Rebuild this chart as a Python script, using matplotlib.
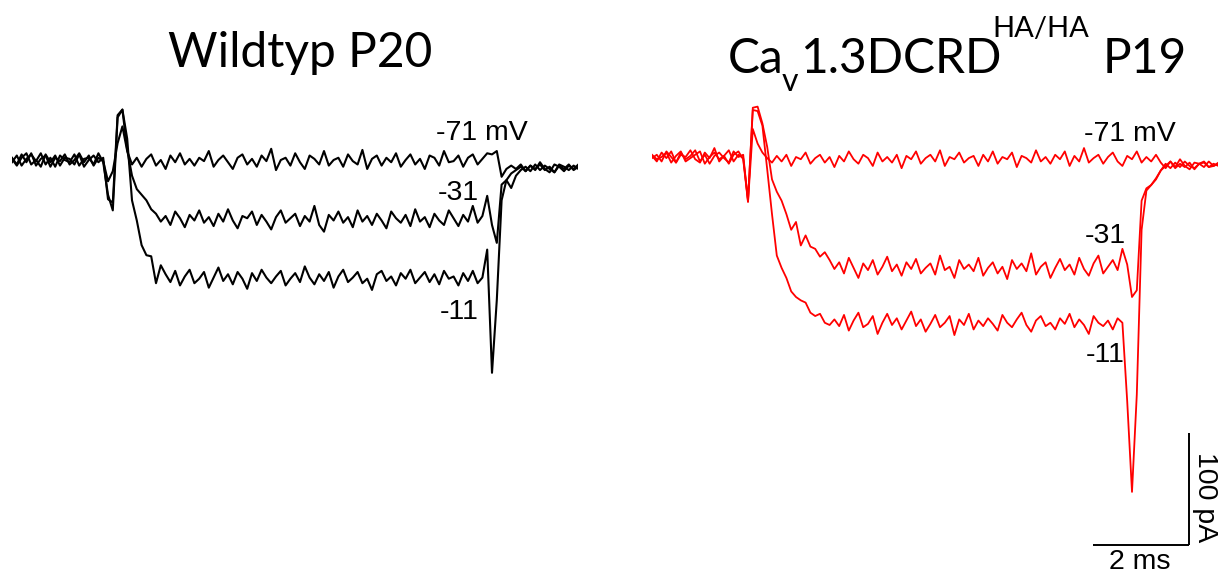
import numpy as np
import matplotlib
matplotlib.use("Agg")
import matplotlib.pyplot as plt

# ---------------- data (pA), sampled every 0.1 ms ----------------
dt_ms = 0.1

wt_m71 = [2, -4, 5, -2, 6, -5, 1, 4, -6, 2, -1, 5, -4, 0, 6, -2, 4, -5, 2, -1,
          -19, -10, 15, 30, 8,
          -4, 2, -6, 1, 5, -5, 0, -8, 4, -2,
          6, -4, 1, -5, 2, -1, 8, -6, 0, 4,
          -2, -8, 2, 5, -4, 1, -6, 4, -1, 10,
          -9, 0, 2, -5, 6, -2, -8, 4, 1, -4,
          8, -5, 0, 2, -6, 5, -1, -4, 9, -8,
          1, 4, -5, 2, -2, 6, -6, 0, 5, -4,
          1, -8, 4, 2, -5, 8, -2, -1, 4, -6,
          2, 5, -4, 1, 6,
          5, 8, -15, -8, -5,
          -8, -4, -10, -5, -9, -2, -8, -11, -4, -6, -10, -5, -8, -4]

wt_m31 = [-2, 4, -5, 1, 5, -1, 6, -4, 2, -6, 4, 0, -2, 5, -5, 1, 2, -4, 6, -2,
          -31, -45, 38, 45, 9, -14, -26, -31, -36, -44,
          -48, -55, -50, -58, -46, -52, -60, -49, -54, -45,
          -56, -51, -59, -48, -55, -44, -54, -61, -50, -52,
          -46, -58, -49, -55, -62, -51, -45, -56, -52, -48,
          -59, -50, -55, -41, -58, -64, -49, -54, -46, -56,
          -51, -60, -45, -55, -50, -58, -48, -54, -61, -46,
          -52, -56, -49, -59, -44, -55, -51, -60, -48, -54,
          -58, -45, -52, -59, -49, -55, -41, -56, -50,
          -32, -58, -74, -22, -18, -25, -14, -9,
          -6, -10, -4, -9, -5, -8, -11, -4, -6, -9, -5, -8]

wt_m11 = [1, -5, 2, 6, -4, 0, -6, 5, -2, 4, -5, 2, 1, -4, 5, -6, 0, 4, -2, 2,
          -35, -38, 40, 45, 19, -36, -54, -76, -85, -86, -110, -94,
          -102, -109, -99, -112, -104, -98, -110, -106, -100, -114,
          -105, -96, -108, -102, -111, -100, -106, -115, -101, -108,
          -98, -105, -110, -104, -99, -112, -106, -101, -109, -95,
          -105, -111, -102, -108, -100, -114, -104, -98, -109, -105,
          -100, -110, -106, -116, -102, -99, -108, -104, -112, -101,
          -106, -98, -110, -105, -100, -109, -102, -111, -99, -106,
          -104, -112, -101, -108, -99, -110, -105,
          -80, -190, -125, -36, -18, -12, -9,
          -6, -10, -5, -8, -4, -9, -6, -11, -5, -8, -4, -9, -6]

ko_m71 = [1, -4, 4, -1, 5, -5, 2, 0, 6, -2, -5, 4, -1, 8, -4, 1, -6, 2, 5, -2,
          -40, 25, 12, 4,
          -1, -5, 1, -4, 2, -8, 0, -2, 4, -6,
          -1, 2, -5, 0, -9, 1, -4, 5, -2, -6,
          2, -1, -8, 4, -4, 0, -5, 2, -10, 1,
          -2, 5, -6, -1, 2, -4, 6, -8, 0, -2,
          4, -5, -1, 1, -8, 2, -4, 5, -6, 0,
          -2, 4, -9, 1, -1, -5, 6, -4, 0, -6,
          2, -2, 5, -8, 1, -4, 8, -5, -1, 2,
          -6, 0, 4, -4, -8, 1, -2, 5, -5, 0,
          -4, 2,
          -5, -10, -4, -9, -2, -8, -11, -5, -6, -9, -4, -8, -6]

ko_m31 = [-1, 2, -4, 5, 0, -5, 4, -2, 1, 6, -4, 2, -6, 1, 4, -1, -5, 5, 0, 2,
          -40, 44, 45, 30, 9, -20, -31, -39, -51, -65, -58, -79, -70, -80, -82, -89, -85, -92,
          -100, -94, -104, -90, -99, -108, -95, -101, -92, -105,
          -98, -89, -102, -96, -106, -94, -100, -91, -104, -99,
          -95, -105, -88, -101, -98, -108, -92, -100, -96, -102,
          -90, -106, -99, -94, -104, -98, -109, -92, -100, -95,
          -102, -86, -105, -98, -94, -108, -99, -91, -101, -96,
          -105, -90, -100, -106, -95, -88, -104, -98, -92, -101,
          -82, -96, -125, -119, -39, -28, -25, -20, -12,
          -8, -4, -10, -6, -9, -5, -11, -6, -4, -9, -8, -5]

ko_m11 = [2, -2, 0, 4, -5, 1, 5, -4, -1, 2, 5, -6, 0, 4, -2, 1, 6, -4, 2, -1,
          -38, 42, 41, 28, -11, -51, -88, -99, -108, -120, -125, -128, -130, -139, -142, -140, -148, -150,
          -145, -151, -141, -155, -146, -139, -152, -149, -142, -158,
          -148, -140, -150, -144, -154, -146, -138, -151, -145, -156,
          -149, -141, -152, -148, -142, -159, -145, -150, -140, -154,
          -146, -151, -144, -149, -155, -141, -148, -152, -145, -139,
          -150, -156, -146, -142, -151, -148, -154, -144, -149, -140,
          -152, -145, -150, -158, -142, -148, -151, -146, -154, -144, -148,
          -218, -299, -212, -65, -30, -25, -19, -12,
          -6, -10, -5, -9, -4, -8, -10, -6, -5, -9, -6, -8]

step_labels = ["-71 mV", "-31", "-11"]
titles = ["Wildtyp P20", "Ca", "v", "1.3DCRD", "HA/HA", "P19"]
scale_ms = 2
scale_pA = 100

# ---------------- layout ----------------
W, H = 1224, 574
PX_PER_MS = 48.0
PX_PER_PA = 1.12
fig = plt.figure(figsize=(W / 100, H / 100), dpi=100)


def make_ax(x0_px, base_px):
    width_px = 566.4
    ax = fig.add_axes([x0_px / W, 0, width_px / W, 1])
    ax.set_xlim(0, width_px / PX_PER_MS)
    ax.set_ylim(-(H - base_px) / PX_PER_PA, base_px / PX_PER_PA)
    ax.axis("off")
    return ax


axL = make_ax(12, 160)
axR = make_ax(652, 157)

for series in (wt_m71, wt_m31, wt_m11):
    t = np.arange(len(series)) * dt_ms
    axL.plot(t, series, color="black", lw=1.5, solid_joinstyle="round")
for series in (ko_m71, ko_m31, ko_m11):
    t = np.arange(len(series)) * dt_ms
    axR.plot(t, series, color="#ff0000", lw=1.3, solid_joinstyle="round")

# scale bar (right panel)
sb_x = (1189 - 652) / PX_PER_MS
sb_y = -(545 - 157) / PX_PER_PA
axR.plot([sb_x - scale_ms, sb_x], [sb_y, sb_y], color="black", lw=1.4,
         clip_on=False, solid_capstyle="butt")
axR.plot([sb_x, sb_x], [sb_y, sb_y + scale_pA], color="black", lw=1.4,
         clip_on=False, solid_capstyle="butt")


def fpos(x, y):
    return x / W, 1 - y / H


lab_font = dict(family="Liberation Sans", fontsize=20.5, color="black")
# step labels left
for (x, y), s in zip([(436, 140), (438, 200), (440, 319)], step_labels):
    fig.text(*fpos(x, y), s, ha="left", va="baseline", **lab_font)
# step labels right
for (x, y), s in zip([(1084, 141), (1085, 243), (1086, 362)], step_labels):
    fig.text(*fpos(x, y), s, ha="left", va="baseline", **lab_font)

fig.text(*fpos(1140, 569), f"{scale_ms} ms", ha="center", va="baseline", **lab_font)
fig.text(*fpos(1205, 497), f"{scale_pA} pA", ha="center", va="center",
         rotation=-90, **lab_font)

# titles
tfont = dict(family="Lato", color="black", fontweight="normal")
fig.text(*fpos(300, 67), titles[0], ha="center", va="baseline", fontsize=34.5, **tfont)
fig.text(*fpos(728, 73), titles[1], ha="left", va="baseline", fontsize=34.5, **tfont)
fig.text(*fpos(782, 91), titles[2], ha="left", va="baseline", fontsize=23, **tfont)
fig.text(*fpos(800, 73), titles[3], ha="left", va="baseline", fontsize=34.5, **tfont)
fig.text(*fpos(992, 37), titles[4], ha="left", va="baseline", fontsize=21, **tfont)
fig.text(*fpos(1103, 73), titles[5], ha="left", va="baseline", fontsize=34.5, **tfont)

fig.savefig("out.png", dpi=100)
